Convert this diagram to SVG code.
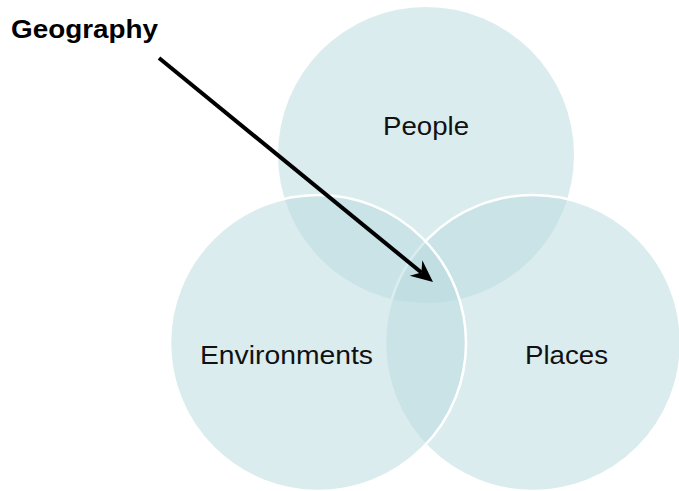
<svg xmlns="http://www.w3.org/2000/svg" width="679" height="491" viewBox="0 0 679 491">
<style>
.c{fill:rgb(186,220,223);fill-opacity:0.54;stroke:#ffffff;stroke-width:2.5}
.c0{fill:rgb(186,220,223);fill-opacity:0.54;stroke:none}
.t{font-family:"Liberation Sans",Arial,sans-serif;font-size:26px;fill:#111111}
.b{font-family:"Liberation Sans",Arial,sans-serif;font-size:26px;font-weight:bold;fill:#000000}
</style>
<defs>
<marker id="ah" markerUnits="userSpaceOnUse" viewBox="-23 -11 24 22" refX="-15" refY="0" markerWidth="24" markerHeight="22" orient="auto">
<path d="M0,0 L-22,-10 L-15,0 L-22,10 Z" fill="#000000"/>
</marker>
</defs>
<rect width="679" height="491" fill="#ffffff"/>
<g id="people">
<circle class="c0" cx="426" cy="155" r="148"/>
<text class="t" x="426" y="135" text-anchor="middle" textLength="86" lengthAdjust="spacingAndGlyphs">People</text>
</g>
<g id="places">
<circle class="c" cx="533" cy="343" r="148"/>
</g>
<g id="environments">
<circle class="c" cx="318" cy="343" r="148"/>
</g>
<text class="t" x="200" y="364" textLength="173" lengthAdjust="spacingAndGlyphs">Environments</text>
<text class="t" x="525" y="364" textLength="83" lengthAdjust="spacingAndGlyphs">Places</text>
<g id="geography">
<text class="b" x="11" y="38" textLength="147" lengthAdjust="spacingAndGlyphs">Geography</text>
</g>
<g id="connectors">
<line x1="159" y1="58" x2="421.4" y2="272.5" stroke="#000000" stroke-width="4" marker-end="url(#ah)"/>
</g>
</svg>
